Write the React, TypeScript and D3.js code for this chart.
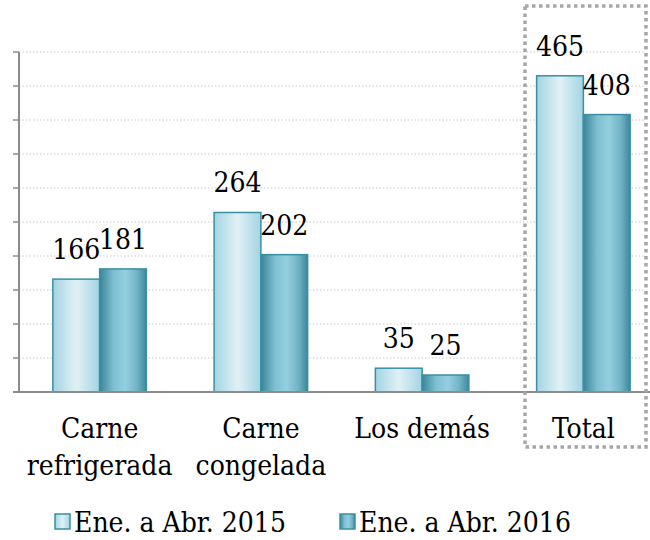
import * as d3 from "d3";

const categories = [["Carne", "refrigerada"], ["Carne", "congelada"], ["Los demás"], ["Total"]];
const seriesNames = ["Ene. a Abr. 2015", "Ene. a Abr. 2016"];
const values2015 = [166, 264, 35, 465];
const values2016 = [181, 202, 25, 408];
const yTicks = [0, 50, 100, 150, 200, 250, 300, 350, 400, 450, 500];

const textStyle = {
  fontFamily: "'DejaVu Serif Condensed', 'DejaVu Serif', serif",
  fontSize: 28,
};

export default function App() {
  const width = 650;
  const height = 540;
  const margin = { top: 52, left: 19, bottom: 148 };
  const plotBottom = height - margin.bottom;

  const x = d3
    .scaleBand<number>()
    .domain(categories.map((_, i) => i))
    .range([margin.left, margin.left + 645])
    .paddingInner(0.42)
    .paddingOuter(0.21);
  const x1 = d3.scaleBand<number>().domain([0, 1]).range([0, x.bandwidth()]);
  const y = d3.scaleLinear().domain([0, 500]).range([plotBottom, margin.top]);

  const series = [values2015, values2016];
  const fills = ["url(#g2015)", "url(#g2016)"];

  return (
    <svg
      width={width}
      height={height}
      style={{ position: "absolute", left: 0, top: 0, background: "#fff" }}
    >
      <defs>
        <linearGradient id="g2015" x1="0" x2="1" y1="0" y2="0">
          <stop offset="0" stopColor="#a3d4e2" />
          <stop offset="0.5" stopColor="#e0f1f6" />
          <stop offset="1" stopColor="#a3d4e2" />
        </linearGradient>
        <linearGradient id="g2016" x1="0" x2="1" y1="0" y2="0">
          <stop offset="0" stopColor="#3a8599" />
          <stop offset="0.3" stopColor="#7fbfd1" />
          <stop offset="0.55" stopColor="#94cfdf" />
          <stop offset="0.8" stopColor="#72b3c5" />
          <stop offset="1" stopColor="#3d889c" />
        </linearGradient>
      </defs>

      {/* grid */}
      {yTicks.slice(1).map((t) => (
        <line
          key={t}
          x1={margin.left}
          x2={645}
          y1={y(t)}
          y2={y(t)}
          stroke="#c8c8c8"
          strokeWidth={1}
          strokeDasharray="1.5,2"
        />
      ))}

      {/* y axis */}
      <line x1={margin.left} x2={margin.left} y1={y(500)} y2={plotBottom} stroke="#8c8c8c" strokeWidth={2} />
      {yTicks.map((t) => (
        <line key={t} x1={margin.left - 6} x2={margin.left} y1={y(t)} y2={y(t)} stroke="#8c8c8c" strokeWidth={1.5} />
      ))}

      {/* bars */}
      {categories.map((_, i) =>
        series.map((vals, s) => {
          const bx = (x(i) || 0) + (x1(s) || 0);
          const bw = x1.bandwidth();
          return (
            <g key={`${i}-${s}`}>
              <rect
                x={bx}
                y={y(vals[i])}
                width={bw}
                height={plotBottom - y(vals[i])}
                fill={fills[s]}
                stroke="#3a8fa4"
                strokeWidth={1.5}
              />
              <text x={bx + bw / 2} y={y(vals[i]) - 20} textAnchor="middle" style={textStyle} fill="#000">
                {vals[i]}
              </text>
            </g>
          );
        })
      )}

      {/* baseline */}
      <line x1={margin.left - 6} x2={650} y1={plotBottom} y2={plotBottom} stroke="#8c8c8c" strokeWidth={2} />

      {/* category labels */}
      {categories.map((lines, i) => {
        const cx = (x(i) || 0) + x.bandwidth() / 2;
        return (
          <text key={i} x={cx} y={plotBottom + 46} textAnchor="middle" style={textStyle} fill="#000">
            {lines.map((l, j) => (
              <tspan key={j} x={cx} dy={j === 0 ? 0 : 37}>
                {l}
              </tspan>
            ))}
          </text>
        );
      })}

      {/* highlight box */}
      <rect
        x={525}
        y={6}
        width={121}
        height={441}
        fill="none"
        stroke="#a6a6a6"
        strokeWidth={3.5}
        strokeDasharray="3.5,3.5"
      />

      {/* legend */}
      {seriesNames.map((name, s) => {
        const lx = s === 0 ? 55 : 340;
        return (
          <g key={name}>
            <rect x={lx} y={514} width={15} height={15} fill={fills[s]} stroke="#3a8fa4" strokeWidth={1.5} />
            <text x={lx + 19} y={532} style={textStyle} fill="#000">
              {name}
            </text>
          </g>
        );
      })}
    </svg>
  );
}
